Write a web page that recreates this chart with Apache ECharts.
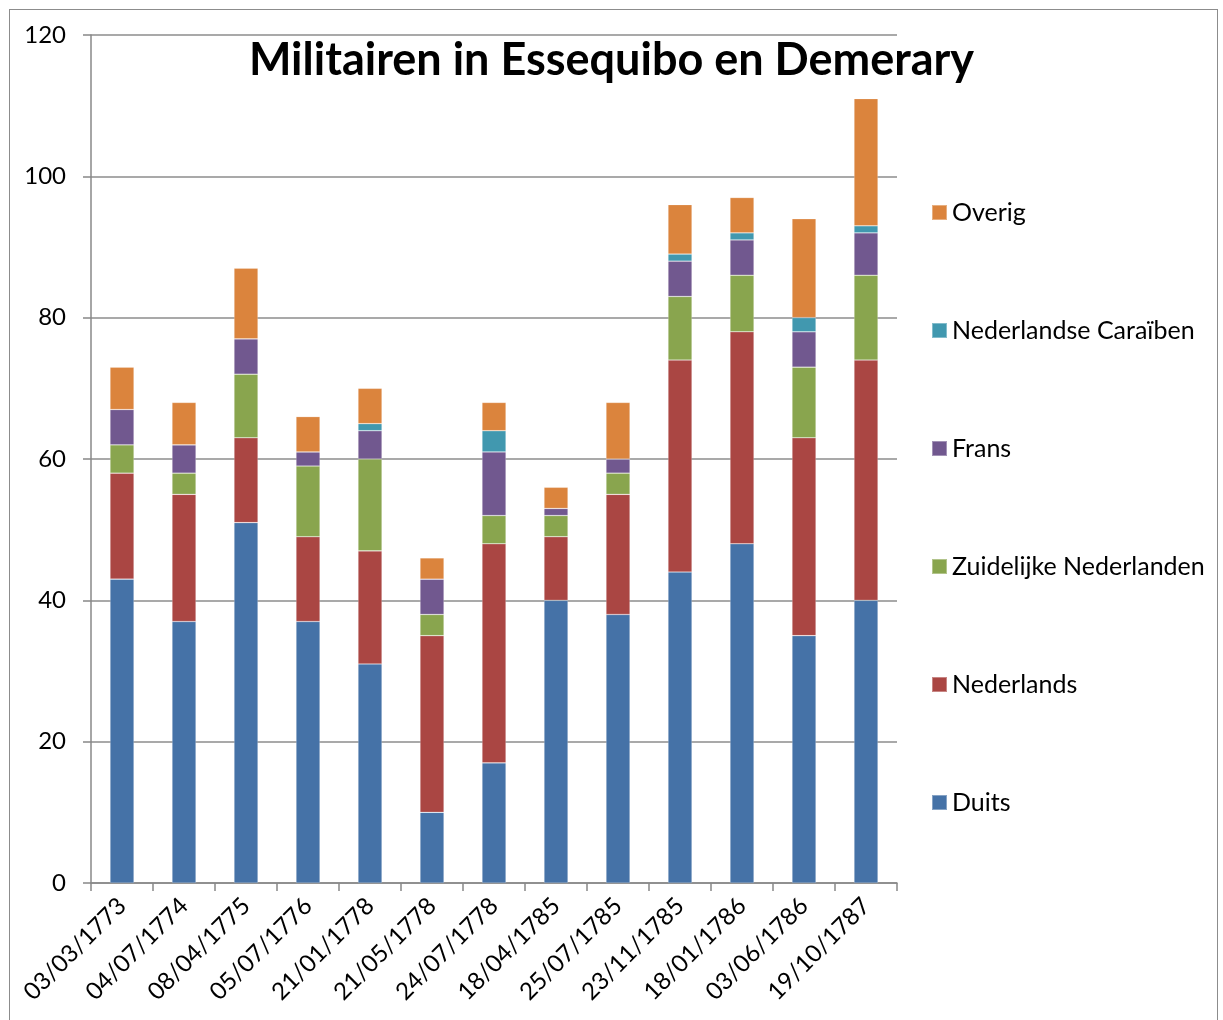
<!DOCTYPE html>
<html>
<head>
<meta charset="utf-8">
<script src="https://cdn.jsdelivr.net/npm/echarts@6/dist/echarts.min.js"></script>
<style>
html,body{margin:0;padding:0;background:#fff;}
#frame{position:absolute;left:9px;top:9px;width:1209px;height:1030px;border:1px solid #8c8c8c;box-sizing:border-box;}
#chart{position:absolute;left:0;top:0;width:1223px;height:1020px;}
</style>
</head>
<body>
<div id="frame"></div>
<div id="chart"></div>
<script>
const categories = ['03/03/1773','04/07/1774','08/04/1775','05/07/1776','21/01/1778','21/05/1778','24/07/1778','18/04/1785','25/07/1785','23/11/1785','18/01/1786','03/06/1786','19/10/1787'];
const duits      = [43, 37, 51, 37, 31, 10, 17, 40, 38, 44, 48, 35, 40];
const nederlands = [15, 18, 12, 12, 16, 25, 31,  9, 17, 30, 30, 28, 34];
const zuidelijk  = [ 4,  3,  9, 10, 13,  3,  4,  3,  3,  9,  8, 10, 12];
const frans      = [ 5,  4,  5,  2,  4,  5,  9,  1,  2,  5,  5,  5,  6];
const caraiben   = [ 0,  0,  0,  0,  1,  0,  3,  0,  0,  1,  1,  2,  1];
const overig     = [ 6,  6, 10,  5,  5,  3,  4,  3,  8,  7,  5, 14, 18];
const yTicks = [0, 20, 40, 60, 80, 100, 120];

const seriesDefs = [
  ['Duits', duits, '#4572A7'],
  ['Nederlands', nederlands, '#AA4643'],
  ['Zuidelijke Nederlanden', zuidelijk, '#89A54E'],
  ['Frans', frans, '#71588F'],
  ['Nederlandse Caraïben', caraiben, '#4198AF'],
  ['Overig', overig, '#DB843D']
];

const font = 'Lato, "Open Sans", sans-serif';
const chart = echarts.init(document.getElementById('chart'));
chart.setOption({
  animation: false,
  backgroundColor: 'transparent',
  title: {
    text: 'Militairen in Essequibo en Demerary',
    left: 'center',
    top: 33,
    textStyle: {fontFamily: font, fontWeight: 'bold', fontSize: 45, color: '#000'}
  },
  legend: {
    orient: 'vertical',
    left: 931,
    top: 200,
    padding: 0,
    itemWidth: 15,
    itemHeight: 15,
    itemGap: 93,
    icon: 'rect',
    data: seriesDefs.map(d => d[0]).reverse(),
    textStyle: {fontFamily: font, fontSize: 25, color: '#000'}
  },
  grid: {left: 91, right: 326, top: 35, bottom: 137, containLabel: false},
  xAxis: {
    type: 'category',
    data: categories,
    axisLine: {lineStyle: {color: '#888', width: 1.5}},
    axisTick: {show: true, length: 8, lineStyle: {color: '#888', width: 1.5}},
    axisLabel: {rotate: 45, margin: 19, fontFamily: font, fontSize: 24, color: '#000', interval: 0}
  },
  yAxis: {
    type: 'value',
    min: yTicks[0],
    max: yTicks[yTicks.length - 1],
    interval: yTicks[1] - yTicks[0],
    axisLine: {show: true, lineStyle: {color: '#888', width: 1.5}},
    axisTick: {show: true, length: 8, lineStyle: {color: '#888', width: 1.5}},
    axisLabel: {margin: 25, fontFamily: font, fontSize: 24, color: '#000'},
    splitLine: {lineStyle: {color: '#8c8c8c', width: 1.5}}
  },
  series: seriesDefs.map(d => ({
    name: d[0],
    type: 'bar',
    stack: 'total',
    data: d[1],
    barWidth: 24,
    itemStyle: {color: d[2], borderColor: 'rgba(255,255,255,0.35)', borderWidth: 0.6}
  }))
});
</script>
</body>
</html>
